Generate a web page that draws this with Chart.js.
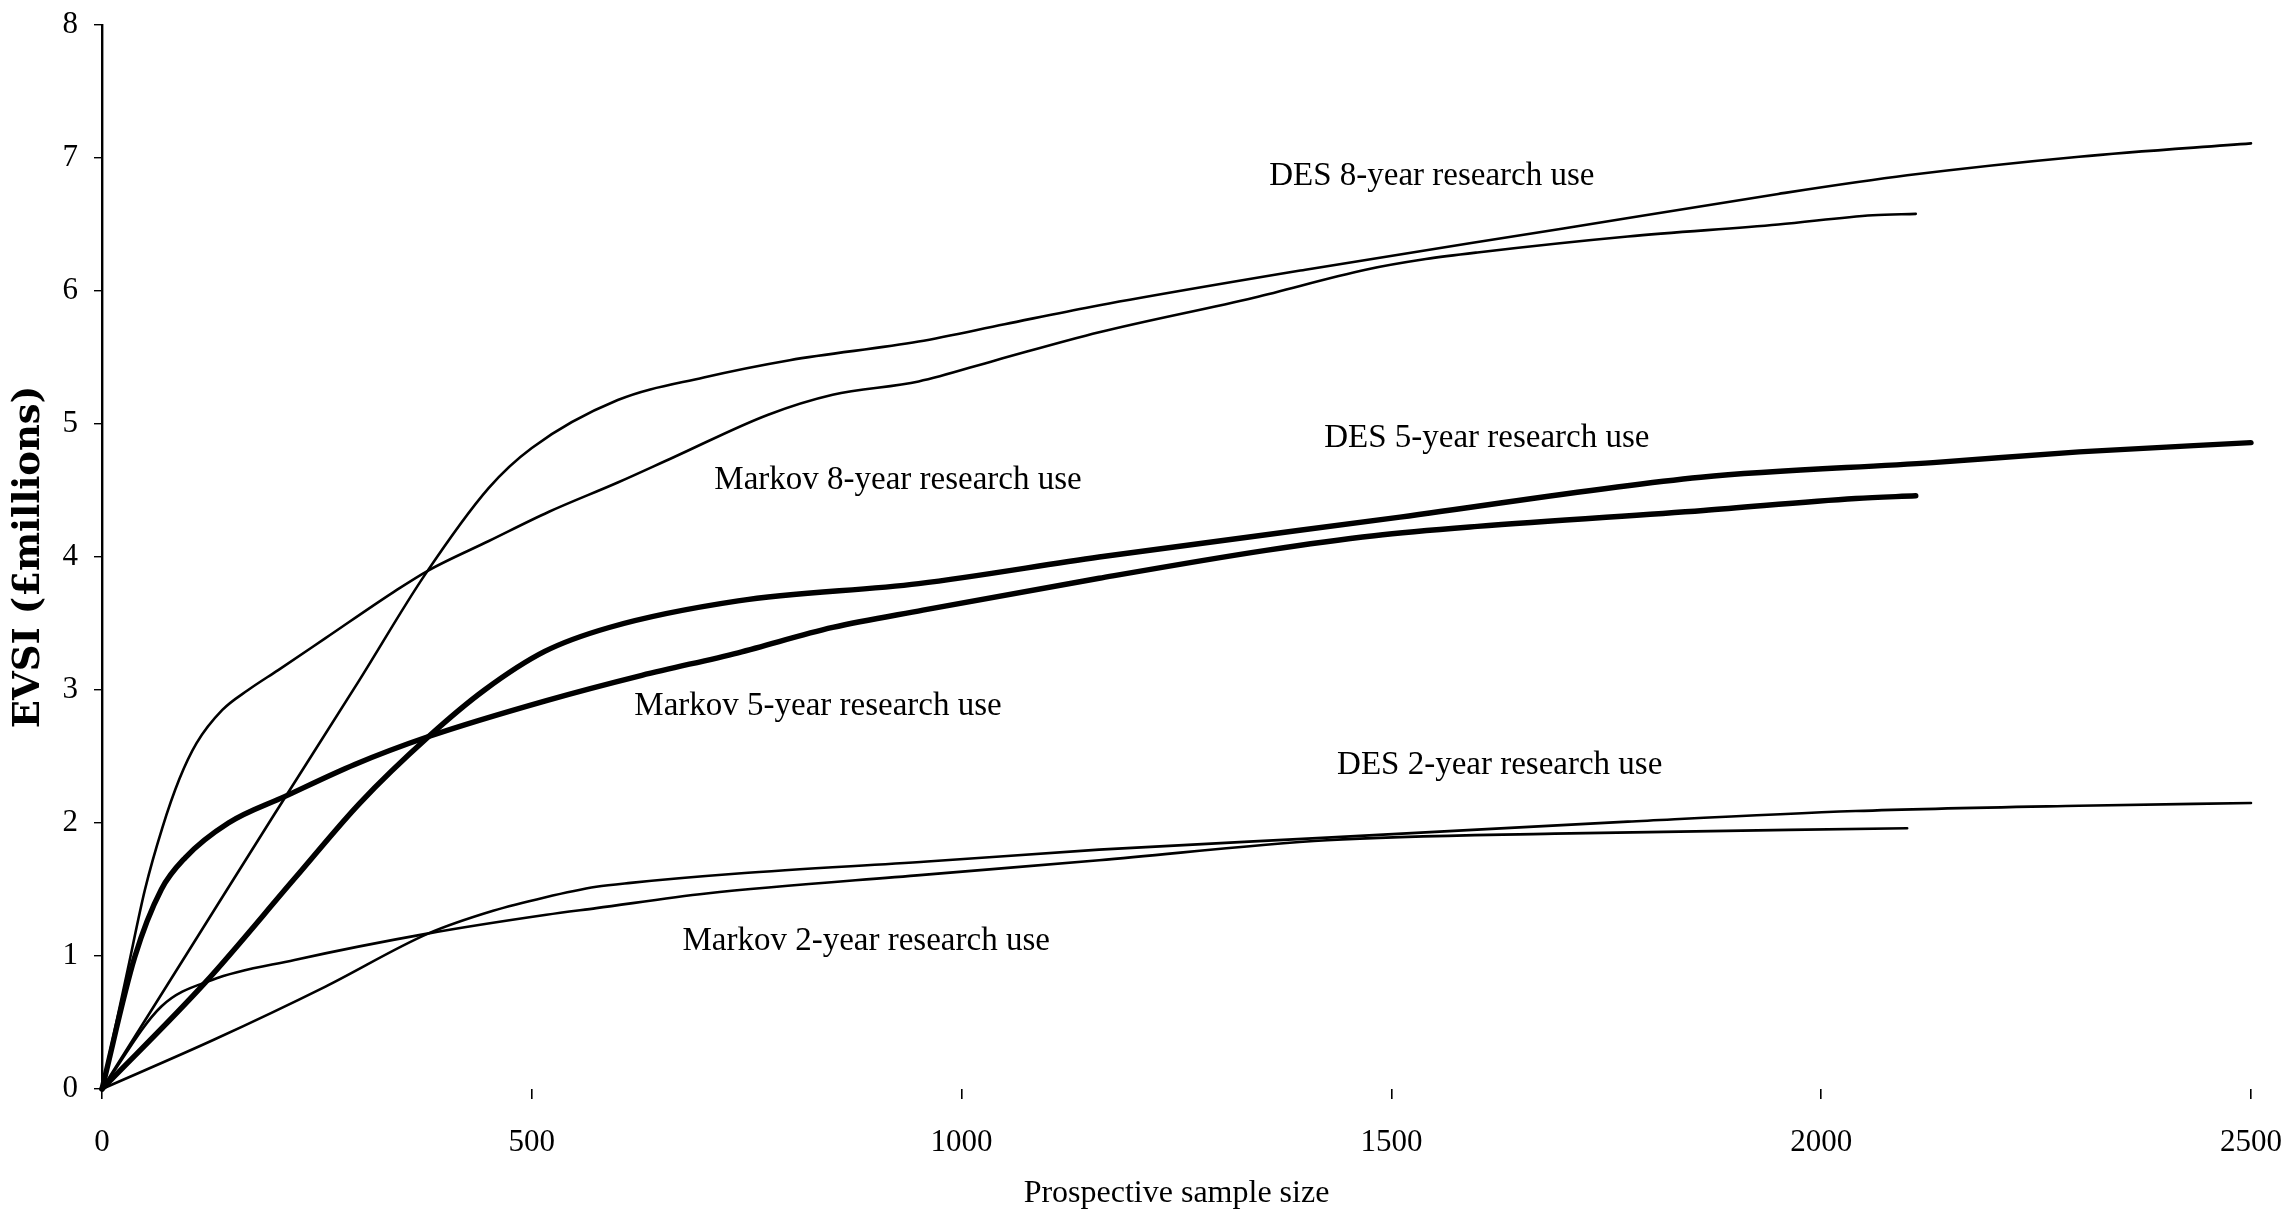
<!DOCTYPE html>
<html>
<head>
<meta charset="utf-8">
<title>EVSI by prospective sample size</title>
<script src="https://cdn.jsdelivr.net/npm/chart.js@4.4.1/dist/chart.umd.min.js"></script>
<style>
  html, body { margin: 0; padding: 0; background: #ffffff; }
  canvas { display: block; }
</style>
</head>
<body>
<canvas id="evsiChart" width="2283" height="1215"></canvas>
<script>
// EVSI (£ millions) against prospective sample size, six model runs.

const desEightSizes   = [0, 100, 200, 300, 375, 450, 500, 600, 700, 800, 950, 1050, 1150, 1400, 1700, 1950, 2100, 2300, 2500];
const desEightEvsi    = [0, 1.03, 2.06, 3.08, 3.86, 4.52, 4.82, 5.18, 5.35, 5.48, 5.62, 5.75, 5.88, 6.16, 6.47, 6.73, 6.87, 7.01, 7.11];

const markovEightSizes = [0, 30, 50, 70, 90, 110, 140, 170, 205, 260, 340, 380, 450, 520, 600, 665, 775, 850, 950, 1040, 1160, 1340, 1470, 1540, 1600, 1775, 1950, 2060, 2110];
const markovEightEvsi  = [0, 0.9, 1.5, 1.96, 2.33, 2.6, 2.85, 3.0, 3.15, 3.39, 3.74, 3.9, 4.12, 4.34, 4.56, 4.75, 5.07, 5.22, 5.32, 5.48, 5.69, 5.95, 6.16, 6.24, 6.29, 6.41, 6.5, 6.57, 6.58];

const desFiveSizes    = [0, 120, 225, 300, 380, 445, 515, 590, 740, 950, 1160, 1510, 1860, 2130, 2300, 2500];
const desFiveEvsi     = [0, 0.8, 1.59, 2.15, 2.65, 3.0, 3.29, 3.47, 3.67, 3.8, 4.0, 4.3, 4.6, 4.71, 4.79, 4.86];

const markovFiveSizes = [0, 38, 69, 97, 147, 213, 294, 380, 517, 628, 740, 850, 955, 1160, 1354, 1480, 1600, 1863, 2040, 2110];
const markovFiveEvsi  = [0, 0.99, 1.5, 1.74, 2.0, 2.2, 2.44, 2.65, 2.92, 3.11, 3.28, 3.47, 3.6, 3.84, 4.05, 4.16, 4.23, 4.35, 4.44, 4.46];

const desTwoSizes     = [0, 130, 260, 380, 455, 515, 575, 615, 740, 960, 1160, 1425, 1775, 2040, 2300, 2500];
const desTwoEvsi      = [0, 0.37, 0.77, 1.17, 1.34, 1.44, 1.52, 1.55, 1.62, 1.71, 1.8, 1.89, 2.01, 2.09, 2.13, 2.15];

const markovTwoSizes  = [0, 69, 128, 224, 380, 517, 575, 703, 955, 1160, 1425, 1690, 2100];
const markovTwoEvsi   = [0, 0.62, 0.82, 0.97, 1.17, 1.31, 1.36, 1.47, 1.61, 1.72, 1.87, 1.92, 1.96];

const seriesNames = [
  'DES 8-year research use',
  'Markov 8-year research use',
  'DES 5-year research use',
  'Markov 5-year research use',
  'DES 2-year research use',
  'Markov 2-year research use'
];

const xTickValues = [0, 500, 1000, 1500, 2000, 2500];
const yTickValues = [0, 1, 2, 3, 4, 5, 6, 7, 8];

// where each curve's caption sits, in data units (sample size, EVSI)
const captionSizes = [1547, 926, 1611, 833, 1626, 889];
const captionEvsi  = [6.86, 4.58, 4.89, 2.88, 2.43, 1.11];

const toPoints = (xs, ys) => xs.map((x, i) => ({ x: x, y: ys[i] }));

const THIN = 2.6;
const THICK = 5.4;

const curves = [
  { data: toPoints(desEightSizes, desEightEvsi), width: THIN },
  { data: toPoints(markovEightSizes, markovEightEvsi), width: THIN },
  { data: toPoints(desFiveSizes, desFiveEvsi), width: THICK },
  { data: toPoints(markovFiveSizes, markovFiveEvsi), width: THICK },
  { data: toPoints(desTwoSizes, desTwoEvsi), width: THIN },
  { data: toPoints(markovTwoSizes, markovTwoEvsi), width: THIN }
];

const datasets = curves.map((c, i) => ({
  label: seriesNames[i],
  data: c.data,
  showLine: true,
  borderColor: '#000000',
  backgroundColor: '#000000',
  borderWidth: c.width,
  pointRadius: 0,
  pointHoverRadius: 0,
  cubicInterpolationMode: 'monotone',
  borderCapStyle: 'round',
  borderJoinStyle: 'round',
  clip: false
}));

// curve captions drawn next to each line
const captionPlugin = {
  id: 'curveCaptions',
  afterDatasetsDraw(chart) {
    const { ctx, scales } = chart;
    ctx.save();
    ctx.fillStyle = '#000000';
    ctx.font = '33px "Liberation Serif", "Times New Roman", serif';
    ctx.textAlign = 'center';
    ctx.textBaseline = 'middle';
    seriesNames.forEach((name, i) => {
      const px = scales.x.getPixelForValue(captionSizes[i]);
      const py = scales.y.getPixelForValue(captionEvsi[i]);
      ctx.fillText(name, px, py);
    });
    ctx.restore();
  }
};

const whiteBackground = {
  id: 'whiteBackground',
  beforeDraw(chart) {
    const { ctx, width, height } = chart;
    ctx.save();
    ctx.fillStyle = '#ffffff';
    ctx.fillRect(0, 0, width, height);
    ctx.restore();
  }
};

const serif = '"Liberation Serif", "Times New Roman", serif';

new Chart(document.getElementById('evsiChart'), {
  type: 'scatter',
  data: { datasets: datasets },
  options: {
    responsive: false,
    animation: false,
    devicePixelRatio: 1,
    events: [],
    layout: { padding: { top: 25, right: 32, left: 0, bottom: 0 } },
    plugins: {
      legend: { display: false },
      tooltip: { enabled: false },
      title: { display: false }
    },
    scales: {
      x: {
        type: 'linear',
        min: 0,
        max: 2500,
        afterBuildTicks(scale) { scale.ticks = xTickValues.map(v => ({ value: v })); },
        afterFit(scale) {
          scale.height = 126;
          scale.paddingLeft = 0;
          scale.paddingRight = 0;
        },
        border: { display: false },
        grid: {
          display: true,
          drawOnChartArea: false,
          drawTicks: true,
          tickLength: 10,
          color: '#000000',
          lineWidth: 1.6
        },
        ticks: {
          color: '#000000',
          font: { family: serif, size: 31 },
          padding: 25,
          maxRotation: 0,
          autoSkip: false,
          callback: v => String(v)
        },
        title: {
          display: true,
          text: 'Prospective sample size',
          color: '#000000',
          font: { family: serif, size: 32 },
          padding: { top: 0, bottom: 2 }
        }
      },
      y: {
        type: 'linear',
        min: 0,
        max: 8,
        afterBuildTicks(scale) { scale.ticks = yTickValues.map(v => ({ value: v })); },
        afterFit(scale) {
          scale.width = 102;
          scale.paddingTop = 0;
          scale.paddingBottom = 0;
        },
        border: { display: true, color: '#000000', width: 2.4 },
        grid: {
          display: true,
          drawOnChartArea: false,
          drawTicks: true,
          tickLength: 8,
          color: '#000000',
          lineWidth: 1.4
        },
        ticks: {
          color: '#000000',
          font: { family: serif, size: 31 },
          padding: 16,
          autoSkip: false,
          callback: v => String(v)
        },
        title: {
          display: true,
          text: 'EVSI (£millions)',
          color: '#000000',
          font: { family: '"DejaVu Serif", serif', size: 37, weight: 'bold' },
          padding: { top: 7, bottom: 0 }
        }
      }
    }
  },
  plugins: [whiteBackground, captionPlugin]
});
</script>
</body>
</html>
